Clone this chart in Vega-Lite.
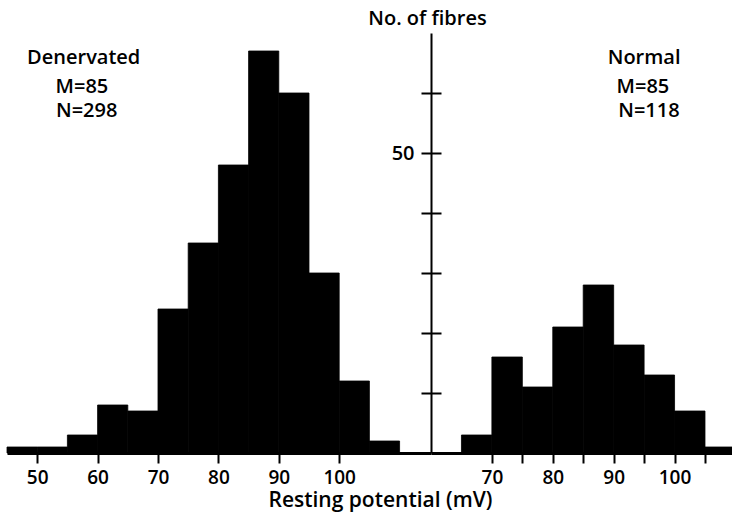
{
  "$schema": "https://vega.github.io/schema/vega-lite/v6.json",
  "autosize": {"type": "pad"},
  "padding": {"left": 6, "top": 8, "right": 0, "bottom": 5},
  "bounds": "flush",
  "spacing": 0,
  "background": "white",
  "config": {
    "view": {"stroke": null},
    "font": "Open Sans",
    "axis": {"domainColor": "black", "tickColor": "black", "labelColor": "black", "titleColor": "black", "grid": false}
  },
  "datasets": {
    "denervated": [
      {"from": 45, "to": 50, "fibres": 1},
      {"from": 50, "to": 55, "fibres": 1},
      {"from": 55, "to": 60, "fibres": 3},
      {"from": 60, "to": 65, "fibres": 8},
      {"from": 65, "to": 70, "fibres": 7},
      {"from": 70, "to": 75, "fibres": 24},
      {"from": 75, "to": 80, "fibres": 35},
      {"from": 80, "to": 85, "fibres": 48},
      {"from": 85, "to": 90, "fibres": 67},
      {"from": 90, "to": 95, "fibres": 60},
      {"from": 95, "to": 100, "fibres": 30},
      {"from": 100, "to": 105, "fibres": 12},
      {"from": 105, "to": 110, "fibres": 2}
    ],
    "normal": [
      {"from": 65, "to": 70, "fibres": 3},
      {"from": 70, "to": 75, "fibres": 16},
      {"from": 75, "to": 80, "fibres": 11},
      {"from": 80, "to": 85, "fibres": 21},
      {"from": 85, "to": 90, "fibres": 28},
      {"from": 90, "to": 95, "fibres": 18},
      {"from": 95, "to": 100, "fibres": 13},
      {"from": 100, "to": 105, "fibres": 7},
      {"from": 105, "to": 110, "fibres": 1}
    ],
    "notes_den": [
      {"label": "Denervated", "x": 57.7, "y": 64.9},
      {"label": "M=85", "x": 57.4, "y": 60.0},
      {"label": "N=298", "x": 58.2, "y": 56.0}
    ],
    "notes_nor": [
      {"label": "Normal", "x": 95.0, "y": 64.9},
      {"label": "M=85", "x": 94.8, "y": 60.0},
      {"label": "N=118", "x": 95.8, "y": 56.0}
    ]
  },
  "hconcat": [
    {
      "width": 424,
      "height": 420,
      "layer": [
        {
          "data": {"name": "denervated"},
          "mark": {"type": "bar", "color": "black", "stroke": "black", "strokeWidth": 0.8},
          "encoding": {
            "x": {
              "field": "from", "type": "quantitative",
              "scale": {"domain": [45, 115.2], "nice": false, "zero": false},
              "axis": {
                "values": [50, 55, 60, 65, 70, 75, 80, 85, 90, 95, 100, 105],
                "labelExpr": "datum.value % 10 === 0 ? datum.label : ''",
                "tickSize": 10, "tickWidth": 2, "domainWidth": 3,
                "labelFontSize": 19, "labelFontWeight": 600,
                "labelPadding": 20.6, "labelBaseline": "alphabetic",
                "labelFlush": false, "labelOverlap": false,
                "title": "Resting potential (mV)",
                "titleFontSize": 21, "titleFontWeight": 600,
                "titleX": 373, "titleY": 53, "titleAlign": "center", "titleBaseline": "alphabetic"
              }
            },
            "x2": {"field": "to"},
            "y": {
              "field": "fibres", "type": "quantitative",
              "scale": {"domain": [0, 70], "nice": false},
              "axis": {"orient": "right", "values": [10, 20, 30, 40, 50, 60], "tickSize": 10, "tickWidth": 2, "labels": false, "domain": false, "title": null}
            },
            "y2": {"datum": 0}
          }
        },
        {
          "data": {"name": "notes_den"},
          "mark": {"type": "text", "align": "center", "baseline": "alphabetic", "fontSize": 20, "fontWeight": 600, "color": "black"},
          "encoding": {
            "x": {"field": "x", "type": "quantitative"},
            "y": {"field": "y", "type": "quantitative"},
            "text": {"field": "label"}
          }
        }
      ]
    },
    {
      "width": 302,
      "height": 420,
      "layer": [
        {
          "data": {"name": "normal"},
          "mark": {"type": "bar", "color": "black", "stroke": "black", "strokeWidth": 0.8, "clip": true},
          "encoding": {
            "x": {
              "field": "from", "type": "quantitative",
              "scale": {"domain": [60, 109.6], "nice": false, "zero": false},
              "axis": {
                "values": [70, 75, 80, 85, 90, 95, 100, 105],
                "labelExpr": "datum.value % 10 === 0 ? datum.label : ''",
                "tickSize": 10, "tickWidth": 2, "domainWidth": 3,
                "labelFontSize": 19, "labelFontWeight": 600,
                "labelPadding": 20.6, "labelBaseline": "alphabetic",
                "labelFlush": false, "labelOverlap": false,
                "title": null
              }
            },
            "x2": {"field": "to"},
            "y": {
              "field": "fibres", "type": "quantitative",
              "scale": {"domain": [0, 70], "nice": false},
              "axis": {
                "orient": "left", "values": [10, 20, 30, 40, 50, 60],
                "tickSize": 10, "tickWidth": 2, "domainWidth": 2,
                "labelExpr": "datum.value === 50 ? '50' : ''",
                "labelFontSize": 20, "labelFontWeight": 600, "labelPadding": 7,
                "title": "No. of fibres", "titleAngle": 0,
                "titleFontSize": 20, "titleFontWeight": 600,
                "titleX": -4, "titleY": -9, "titleAlign": "center", "titleBaseline": "alphabetic"
              }
            },
            "y2": {"datum": 0}
          }
        },
        {
          "data": {"name": "notes_nor"},
          "mark": {"type": "text", "align": "center", "baseline": "alphabetic", "fontSize": 20, "fontWeight": 600, "color": "black"},
          "encoding": {
            "x": {"field": "x", "type": "quantitative"},
            "y": {"field": "y", "type": "quantitative"},
            "text": {"field": "label"}
          }
        }
      ]
    }
  ]
}
